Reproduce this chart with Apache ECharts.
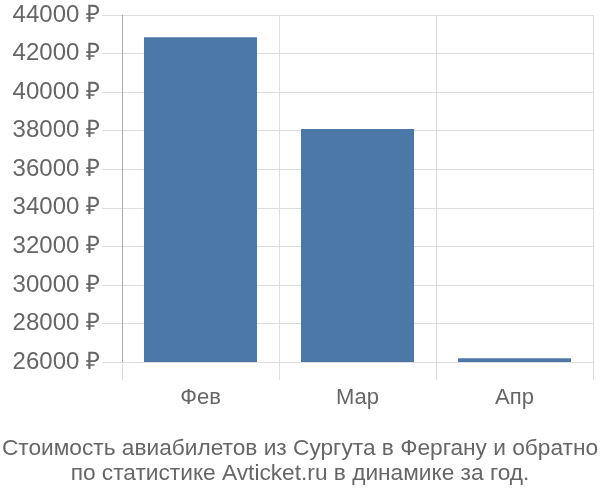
<!DOCTYPE html>
<html>
<head>
<meta charset="utf-8">
<script src="https://cdn.jsdelivr.net/npm/echarts@6/dist/echarts.min.js"></script>
<style>html,body{margin:0;padding:0;background:#fff}#c{width:600px;height:500px}</style>
</head>
<body>
<div id="c"></div>
<script>
const categories = ["Фев", "Мар", "Апр"];
const prices = [42850, 38090, 26200];
const yMin = 26000, yMax = 44000, yStep = 2000;
const titleLines = ["Стоимость авиабилетов из Сургута в Фергану и обратно", "по статистике Avticket.ru в динамике за год."];

const chart = echarts.init(document.getElementById('c'), null, {renderer: 'canvas'});
const font = 'Liberation Sans, Arial, sans-serif';
chart.setOption({
  animation: false,
  backgroundColor: '#fff',
  title: {
    text: titleLines.join('\n'),
    left: 'center',
    bottom: 9,
    textStyle: {fontFamily: font, fontSize: 22.7, fontWeight: 'normal', color: '#666', lineHeight: 25}
  },
  grid: {left: 122, right: 7, top: 15, bottom: 138, containLabel: false},
  xAxis: {
    type: 'category',
    data: categories,
    offset: 18,
    axisLine: {show: false},
    axisTick: {show: true, inside: true, length: 18, lineStyle: {color: '#ddd'}},
    splitLine: {show: true, lineStyle: {color: '#ddd'}},
    axisLabel: {fontFamily: font, fontSize: 22, color: '#666', margin: 7}
  },
  yAxis: {
    type: 'value',
    min: yMin, max: yMax, interval: yStep,
    axisLine: {show: true, lineStyle: {color: '#aaa'}},
    axisTick: {show: true, length: 20, lineStyle: {color: '#ddd'}},
    splitLine: {show: true, lineStyle: {color: '#ddd'}},
    axisLabel: {fontFamily: font, fontSize: 24, color: '#666', margin: 22, formatter: v => v + ' ₽'}
  },
  series: [{
    type: 'bar',
    data: prices,
    barCategoryGap: '28%',
    itemStyle: {color: '#4c78a8'}
  }]
});
</script>
</body>
</html>
